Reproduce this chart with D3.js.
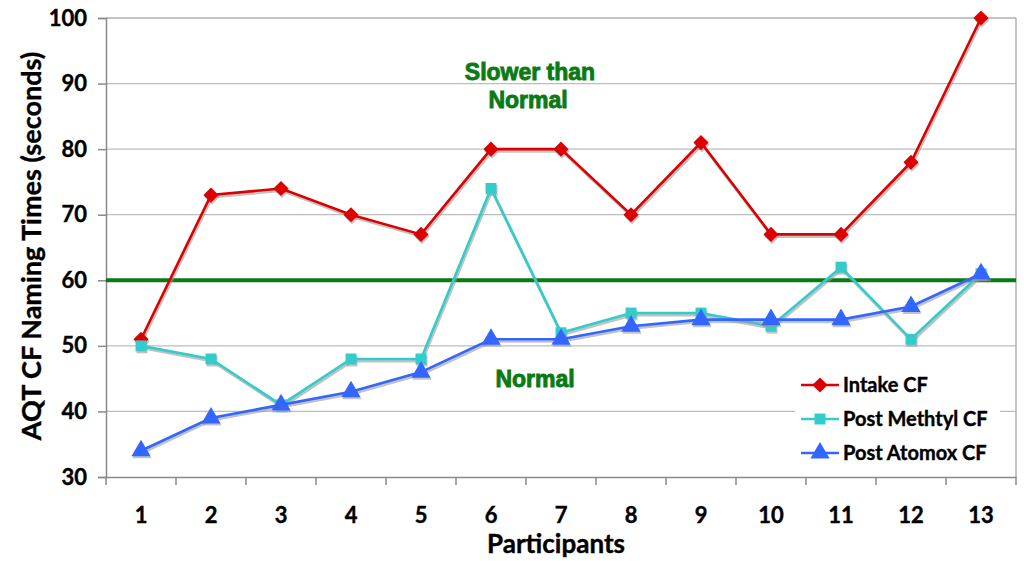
<!DOCTYPE html>
<html>
<head>
<meta charset="utf-8">
<script src="https://cdn.jsdelivr.net/npm/d3@7.9.0/dist/d3.min.js"></script>
<style>
  body { margin: 0; background: #fff; }
  text { font-family: Lato, "Open Sans", sans-serif; font-weight: bold; }
  .green { font-family: "Liberation Sans", Arial, sans-serif; font-weight: bold; }
</style>
</head>
<body>
<svg id="chart" width="1024" height="561"></svg>
<script>
const participants = ['1','2','3','4','5','6','7','8','9','10','11','12','13'];
const intake = [51, 73, 74, 70, 67, 80, 80, 70, 81, 67, 67, 78, 100];
const methyl = [50, 48, 41, 48, 48, 74, 52, 55, 55, 53, 62, 51, 61];
const atomox = [34, 39, 41, 43, 46, 51, 51, 53, 54, 54, 54, 56, 61];
const yTicks = [30, 40, 50, 60, 70, 80, 90, 100];
const normalLine = 60;

const series = [
  { name: 'Intake CF', values: intake, color: '#dd0000', shape: d3.symbolSquare, size: 115, rot: 45 },
  { name: 'Post Methtyl CF', values: methyl, color: '#33cccc', shape: d3.symbolSquare, size: 120, rot: 0 },
  { name: 'Post Atomox CF', values: atomox, color: '#3366ff', shape: d3.symbolTriangle, size: 160, rot: 0 }
];

const svg = d3.select('#chart');
const pLeft = 106, pRight = 1016, pTop = 18, pBottom = 477;

let x = d3.scaleBand().domain(participants).range([pLeft, pRight]);
let y = d3.scaleLinear().domain([30, 100]).range([pBottom, pTop]);
let cx = i => x(participants[i]) + x.bandwidth() / 2;

// gridlines
svg.append('g').selectAll('line').data(yTicks.slice(1)).join('line')
  .attr('x1', pLeft).attr('x2', pRight)
  .attr('y1', d => y(d)).attr('y2', d => y(d))
  .attr('stroke', d => d === 100 ? '#8a8a8a' : '#bdbdbd').attr('stroke-width', 1.2);
svg.append('line').attr('x1', pRight).attr('x2', pRight).attr('y1', pTop).attr('y2', pBottom)
  .attr('stroke', '#a0a0a0').attr('stroke-width', 1.2);

// axes
let yAxis = svg.append('g').attr('transform', `translate(${pLeft},0)`)
  .call(d3.axisLeft(y).tickValues(yTicks).tickSize(8).tickPadding(11));
yAxis.selectAll('text').attr('font-size', 22).attr('fill', '#000');
let xAxis = svg.append('g').attr('transform', `translate(0,${pBottom})`)
  .call(d3.axisBottom(x).tickSize(0).tickPadding(30));
xAxis.selectAll('text').attr('font-size', 22).attr('fill', '#000');
[yAxis, xAxis].forEach(a => a.selectAll('path, line').attr('stroke', '#8a8a8a').attr('stroke-width', 1.5));
[yAxis, xAxis].forEach(a => a.selectAll('text').attr('stroke', '#000').attr('stroke-width', 0.4));
// band edge ticks
svg.append('g').selectAll('line').data(participants.concat(['end'])).join('line')
  .attr('x1', (d, i) => pLeft + i * x.bandwidth()).attr('x2', (d, i) => pLeft + i * x.bandwidth())
  .attr('y1', pBottom).attr('y2', pBottom + 8)
  .attr('stroke', '#8a8a8a').attr('stroke-width', 1.5);

// normal threshold
svg.append('line').attr('x1', pLeft).attr('x2', pRight)
  .attr('y1', y(normalLine)).attr('y2', y(normalLine))
  .attr('stroke', '#0a7a14').attr('stroke-width', 4);

[['Slower than', 530, 80], ['Normal', 528, 108], ['Normal', 535, 387]].forEach(([t, tx, ty]) => {
  svg.append('text').attr('class', 'green').attr('x', tx).attr('y', ty).attr('text-anchor', 'middle')
    .attr('font-size', 23).attr('fill', '#0a7a14')
    .attr('stroke', '#0a7a14').attr('stroke-width', 0.9).text(t);
});

let line = d3.line().x((d, i) => cx(i)).y(d => y(d));

series.forEach(s => {
  let g = svg.append('g');
  let sym = d3.symbol().type(s.shape).size(s.size);
  // shadow
  g.append('path').attr('d', line(s.values)).attr('fill', 'none')
    .attr('stroke', '#999').attr('stroke-opacity', 0.6).attr('stroke-width', 3)
    .attr('transform', 'translate(1,2)');
  g.selectAll('.sh').data(s.values).join('path').attr('class', 'sh')
    .attr('d', sym)
    .attr('transform', (d, i) => `translate(${cx(i) + 1},${y(d) + 2}) rotate(${s.rot})`)
    .attr('fill', '#999').attr('fill-opacity', 0.6);
  g.append('path').attr('d', line(s.values)).attr('fill', 'none')
    .attr('stroke', s.color).attr('stroke-width', 2.6);
  g.selectAll('.pt').data(s.values).join('path').attr('class', 'pt')
    .attr('d', sym)
    .attr('transform', (d, i) => `translate(${cx(i)},${y(d)}) rotate(${s.rot})`)
    .attr('fill', s.color);
});

// legend
let legend = svg.append('g').attr('transform', 'translate(795,370)');
legend.append('rect').attr('width', 205).attr('height', 100).attr('fill', '#fff');
series.forEach((s, i) => {
  let ly = 15 + i * 34;
  legend.append('line').attr('x1', 6).attr('x2', 44).attr('y1', ly).attr('y2', ly)
    .attr('stroke', s.color).attr('stroke-width', 2.6);
  legend.append('path').attr('d', d3.symbol().type(s.shape).size(s.size))
    .attr('transform', `translate(25,${ly}) rotate(${s.rot})`).attr('fill', s.color);
  legend.append('text').attr('x', 48).attr('y', ly + 7).attr('font-size', 20)
    .attr('stroke', '#000').attr('stroke-width', 0.4).text(s.name);
});

// axis titles
svg.append('text').attr('x', 556).attr('y', 553).attr('text-anchor', 'middle')
  .attr('font-size', 26).attr('stroke', '#000').attr('stroke-width', 0.4).text('Participants');
svg.append('text').attr('transform', `translate(41,246) rotate(-90)`)
  .attr('text-anchor', 'middle').attr('font-size', 27).attr('stroke', '#000').attr('stroke-width', 0.4)
  .text('AQT CF Naming Times (seconds)');
</script>
</body>
</html>
